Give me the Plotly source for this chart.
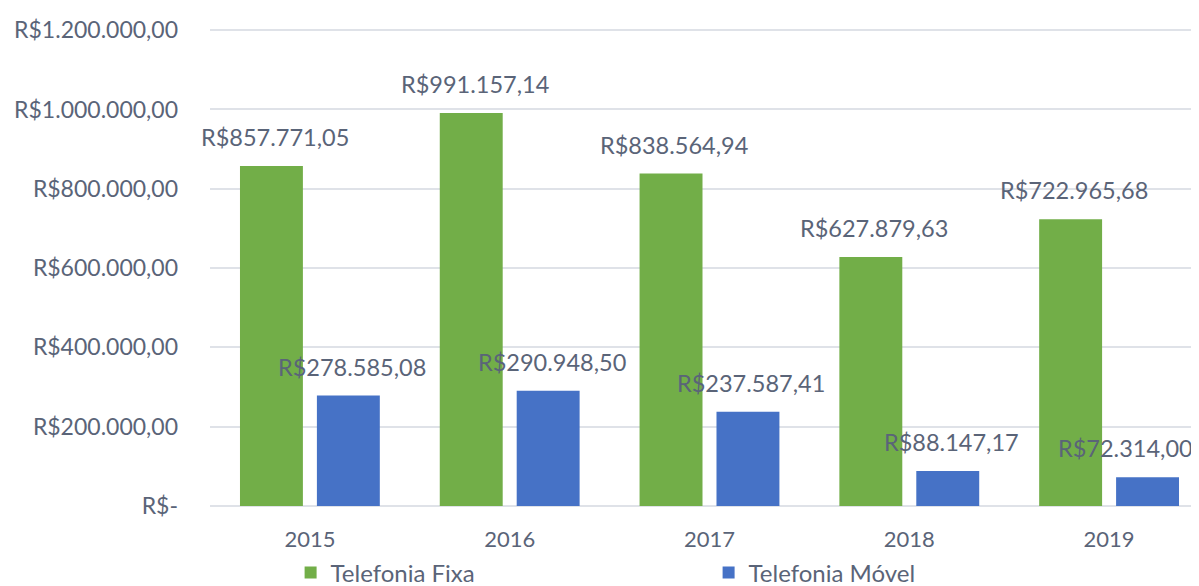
import plotly.graph_objects as go

years = ["2015", "2016", "2017", "2018", "2019"]
fixa = [857771.05, 991157.14, 838564.94, 627879.63, 722965.68]
movel = [278585.08, 290948.50, 237587.41, 88147.17, 72314.00]
fixa_labels = ["R$857.771,05", "R$991.157,14", "R$838.564,94", "R$627.879,63", "R$722.965,68"]
movel_labels = ["R$278.585,08", "R$290.948,50", "R$237.587,41", "R$88.147,17", "R$72.314,00"]
tick_vals = [0, 200000, 400000, 600000, 800000, 1000000, 1200000]
tick_text = ["R$-", "R$200.000,00", "R$400.000,00", "R$600.000,00", "R$800.000,00",
             "R$1.000.000,00", "R$1.200.000,00"]

FONT = "Lato"
TXT = "#5a6478"

fig = go.Figure()
fig.add_trace(go.Bar(x=years, y=fixa, name="Telefonia Fixa",
                     marker=dict(color="#72ae48", line=dict(width=0))))
fig.add_trace(go.Bar(x=years, y=movel, name="Telefonia Móvel",
                     marker=dict(color="#4672c6", line=dict(width=0))))

n = len(years)
for i, (v, t) in enumerate(zip(fixa, fixa_labels)):
    fig.add_annotation(x=i, y=v, text=t, showarrow=False, xshift=-35, yshift=29,
                       font=dict(family=FONT, size=23.5, color=TXT))
for i, (v, t) in enumerate(zip(movel, movel_labels)):
    # the last label is nudged left so it stays inside the chart, as in the original
    xs = 16 if i == n - 1 else 42
    fig.add_annotation(x=i, y=v, text=t, showarrow=False, xshift=xs, yshift=29,
                       font=dict(family=FONT, size=23.5, color=TXT))

fig.update_layout(
    width=1199, height=586,
    margin=dict(l=202, r=8, t=21, b=88, autoexpand=False),
    paper_bgcolor="white", plot_bgcolor="white",
    barmode="group", bargap=0.23, bargroupgap=0.182,
    font=dict(family=FONT, size=22, color=TXT),
    showlegend=True,
    legend=dict(orientation="h", xref="container", yref="container",
                x=0.2357, y=0.036, xanchor="left", yanchor="middle",
                entrywidth=373, entrywidthmode="pixels",
                font=dict(family=FONT, size=24, color=TXT),
                itemwidth=30),
    xaxis=dict(type="category", range=[-0.5, 4.45], showgrid=False, showline=False,
               ticks="", ticklabelstandoff=18,
               tickfont=dict(family=FONT, size=22, color=TXT)),
    yaxis=dict(range=[0, 1203000], tickvals=tick_vals, ticktext=tick_text,
               showgrid=True, gridcolor="#dfe2e8", gridwidth=2,
               zeroline=True, zerolinecolor="#dfe2e8", zerolinewidth=2,
               ticklabelstandoff=31,
               tickfont=dict(family=FONT, size=23, color=TXT)),
)

fig.write_html("out.html")
